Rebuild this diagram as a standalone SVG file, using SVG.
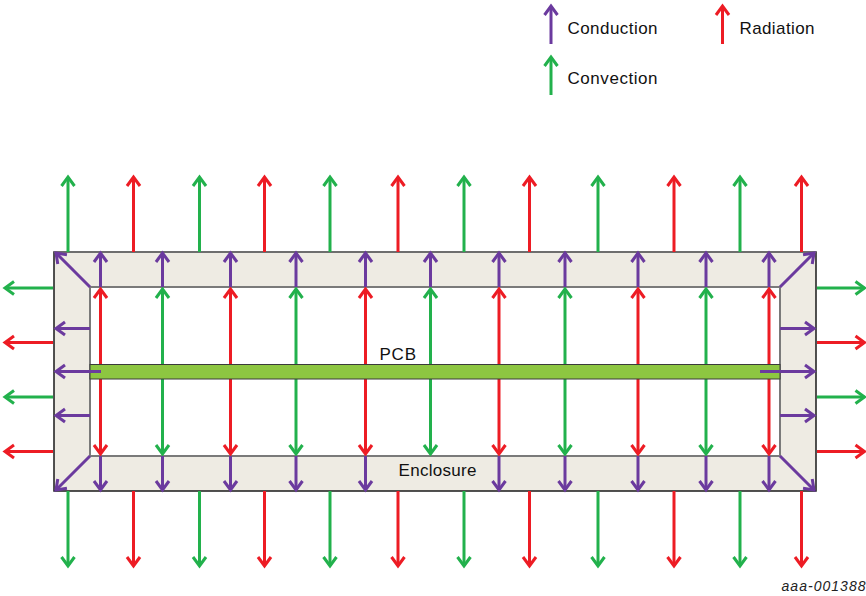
<svg xmlns="http://www.w3.org/2000/svg" width="866" height="596" viewBox="0 0 866 596">
<style>
.t{font-family:"Liberation Sans",Arial,sans-serif;font-size:17px;fill:#111}
.r{stroke:#ED1C24;stroke-width:3;fill:none;marker-end:url(#mr)}
.g{stroke:#22B14C;stroke-width:3;fill:none;marker-end:url(#mg)}
.p{stroke:#6B3A9E;stroke-width:3;fill:none;marker-end:url(#mp)}
</style>
<defs>
<marker id="mr" markerUnits="userSpaceOnUse" markerWidth="20" markerHeight="20" refX="0" refY="0" orient="auto" overflow="visible"><path d="M-9,-6.5 L0,0 L-9,6.5" fill="none" stroke="#ED1C24" stroke-width="3"/></marker>
<marker id="mg" markerUnits="userSpaceOnUse" markerWidth="20" markerHeight="20" refX="0" refY="0" orient="auto" overflow="visible"><path d="M-9,-6.5 L0,0 L-9,6.5" fill="none" stroke="#22B14C" stroke-width="3"/></marker>
<marker id="mp" markerUnits="userSpaceOnUse" markerWidth="20" markerHeight="20" refX="0" refY="0" orient="auto" overflow="visible"><path d="M-9,-6.5 L0,0 L-9,6.5" fill="none" stroke="#6B3A9E" stroke-width="3"/></marker>
</defs>
<rect width="866" height="596" fill="#fff"/>

<g id="legend">
<g id="legend-conduction"><line class="p" x1="551" y1="44" x2="551" y2="6"/><text class="t" x="567.5" y="33.5" textLength="90" lengthAdjust="spacing">Conduction</text></g>
<g id="legend-radiation"><line class="r" x1="722.5" y1="44" x2="722.5" y2="6"/><text class="t" x="739.5" y="33.5" textLength="75" lengthAdjust="spacing">Radiation</text></g>
<g id="legend-convection"><line class="g" x1="551" y1="95" x2="551" y2="57"/><text class="t" x="567.5" y="83.5" textLength="90" lengthAdjust="spacing">Convection</text></g>
</g>

<g id="enclosure">
<path d="M54,252 H816 V491 H54 Z M90,287 V456 H780 V287 Z" fill="#EEEBE3" fill-rule="evenodd" stroke="#1a1a1a" stroke-width="1.5"/>
<line x1="54" y1="252" x2="816" y2="252" stroke="#6e6e6e" stroke-width="2"/>
<rect x="90" y="287" width="690" height="169" fill="#fff" stroke="#7a7a7a" stroke-width="2"/>
<text class="t" x="398.5" y="475.5" textLength="78" lengthAdjust="spacing">Enclosure</text>
</g>

<g id="connectors-inner">
<line class="r" x1="100.5" y1="372" x2="100.5" y2="289"/><line class="r" x1="100.5" y1="372" x2="100.5" y2="454"/>
<line class="g" x1="162.5" y1="372" x2="162.5" y2="289"/><line class="g" x1="162.5" y1="372" x2="162.5" y2="454"/>
<line class="r" x1="230.5" y1="372" x2="230.5" y2="289"/><line class="r" x1="230.5" y1="372" x2="230.5" y2="454"/>
<line class="g" x1="296" y1="372" x2="296" y2="289"/><line class="g" x1="296" y1="372" x2="296" y2="454"/>
<line class="r" x1="365.5" y1="372" x2="365.5" y2="289"/><line class="r" x1="365.5" y1="372" x2="365.5" y2="454"/>
<line class="g" x1="430.5" y1="372" x2="430.5" y2="289"/><line class="g" x1="430.5" y1="372" x2="430.5" y2="454"/>
<line class="r" x1="499" y1="372" x2="499" y2="289"/><line class="r" x1="499" y1="372" x2="499" y2="454"/>
<line class="g" x1="565" y1="372" x2="565" y2="289"/><line class="g" x1="565" y1="372" x2="565" y2="454"/>
<line class="r" x1="638" y1="372" x2="638" y2="289"/><line class="r" x1="638" y1="372" x2="638" y2="454"/>
<line class="g" x1="706" y1="372" x2="706" y2="289"/><line class="g" x1="706" y1="372" x2="706" y2="454"/>
<line class="r" x1="769" y1="372" x2="769" y2="289"/><line class="r" x1="769" y1="372" x2="769" y2="454"/>
</g>

<g id="pcb">
<rect x="90" y="364.5" width="690" height="14.5" fill="#8DC641" stroke="#3a3a3a" stroke-width="1"/>
<text class="t" x="379.5" y="360" textLength="36.5" lengthAdjust="spacing">PCB</text>
</g>

<g id="connectors">
<line class="p" x1="100.5" y1="287" x2="100.5" y2="253"/>
<line class="p" x1="162.5" y1="287" x2="162.5" y2="253"/>
<line class="p" x1="230.5" y1="287" x2="230.5" y2="253"/>
<line class="p" x1="296" y1="287" x2="296" y2="253"/>
<line class="p" x1="365.5" y1="287" x2="365.5" y2="253"/>
<line class="p" x1="430.5" y1="287" x2="430.5" y2="253"/>
<line class="p" x1="499" y1="287" x2="499" y2="253"/>
<line class="p" x1="565" y1="287" x2="565" y2="253"/>
<line class="p" x1="638" y1="287" x2="638" y2="253"/>
<line class="p" x1="706" y1="287" x2="706" y2="253"/>
<line class="p" x1="769" y1="287" x2="769" y2="253"/>
<line class="p" x1="100.5" y1="456" x2="100.5" y2="490"/>
<line class="p" x1="162.5" y1="456" x2="162.5" y2="490"/>
<line class="p" x1="230.5" y1="456" x2="230.5" y2="490"/>
<line class="p" x1="296" y1="456" x2="296" y2="490"/>
<line class="p" x1="365.5" y1="456" x2="365.5" y2="490"/>
<line class="p" x1="499" y1="456" x2="499" y2="490"/>
<line class="p" x1="565" y1="456" x2="565" y2="490"/>
<line class="p" x1="638" y1="456" x2="638" y2="490"/>
<line class="p" x1="706" y1="456" x2="706" y2="490"/>
<line class="p" x1="769" y1="456" x2="769" y2="490"/>
<line class="p" x1="90" y1="328.5" x2="56" y2="328.5"/>
<line class="p" x1="101" y1="371.5" x2="56" y2="371.5"/>
<line class="p" x1="90" y1="415.5" x2="56" y2="415.5"/>
<line class="p" x1="780" y1="328.5" x2="814" y2="328.5"/>
<line class="p" x1="760" y1="371.5" x2="814" y2="371.5"/>
<line class="p" x1="780" y1="415.5" x2="814" y2="415.5"/>
<line class="p" x1="90" y1="287" x2="56" y2="253"/>
<line class="p" x1="780" y1="287" x2="814" y2="253"/>
<line class="p" x1="90" y1="456" x2="56" y2="490"/>
<line class="p" x1="780" y1="456" x2="814" y2="490"/>
<line class="g" x1="68" y1="252" x2="68" y2="177"/>
<line class="r" x1="133.5" y1="252" x2="133.5" y2="177"/>
<line class="g" x1="199.5" y1="252" x2="199.5" y2="177"/>
<line class="r" x1="264.5" y1="252" x2="264.5" y2="177"/>
<line class="g" x1="330" y1="252" x2="330" y2="177"/>
<line class="r" x1="398" y1="252" x2="398" y2="177"/>
<line class="g" x1="464" y1="252" x2="464" y2="177"/>
<line class="r" x1="529.5" y1="252" x2="529.5" y2="177"/>
<line class="g" x1="598" y1="252" x2="598" y2="177"/>
<line class="r" x1="674" y1="252" x2="674" y2="177"/>
<line class="g" x1="740" y1="252" x2="740" y2="177"/>
<line class="r" x1="801.5" y1="252" x2="801.5" y2="177"/>
<line class="g" x1="68" y1="491" x2="68" y2="566"/>
<line class="r" x1="133.5" y1="491" x2="133.5" y2="566"/>
<line class="g" x1="199.5" y1="491" x2="199.5" y2="566"/>
<line class="r" x1="264.5" y1="491" x2="264.5" y2="566"/>
<line class="g" x1="330" y1="491" x2="330" y2="566"/>
<line class="r" x1="398" y1="491" x2="398" y2="566"/>
<line class="g" x1="464" y1="491" x2="464" y2="566"/>
<line class="r" x1="529.5" y1="491" x2="529.5" y2="566"/>
<line class="g" x1="598" y1="491" x2="598" y2="566"/>
<line class="r" x1="674" y1="491" x2="674" y2="566"/>
<line class="g" x1="740" y1="491" x2="740" y2="566"/>
<line class="r" x1="801.5" y1="491" x2="801.5" y2="566"/>
<line class="g" x1="53" y1="288" x2="5" y2="288"/>
<line class="r" x1="53" y1="342.5" x2="5" y2="342.5"/>
<line class="g" x1="53" y1="397" x2="5" y2="397"/>
<line class="r" x1="53" y1="451.5" x2="5" y2="451.5"/>
<line class="g" x1="817" y1="288" x2="864.5" y2="288"/>
<line class="r" x1="817" y1="342.5" x2="864.5" y2="342.5"/>
<line class="g" x1="817" y1="397" x2="864.5" y2="397"/>
<line class="r" x1="817" y1="451.5" x2="864.5" y2="451.5"/>
</g>

<text id="figure-id" x="781.5" y="591" font-family="'Liberation Sans',Arial,sans-serif" font-size="14" font-style="italic" fill="#222" textLength="84" lengthAdjust="spacing">aaa-001388</text>
</svg>
